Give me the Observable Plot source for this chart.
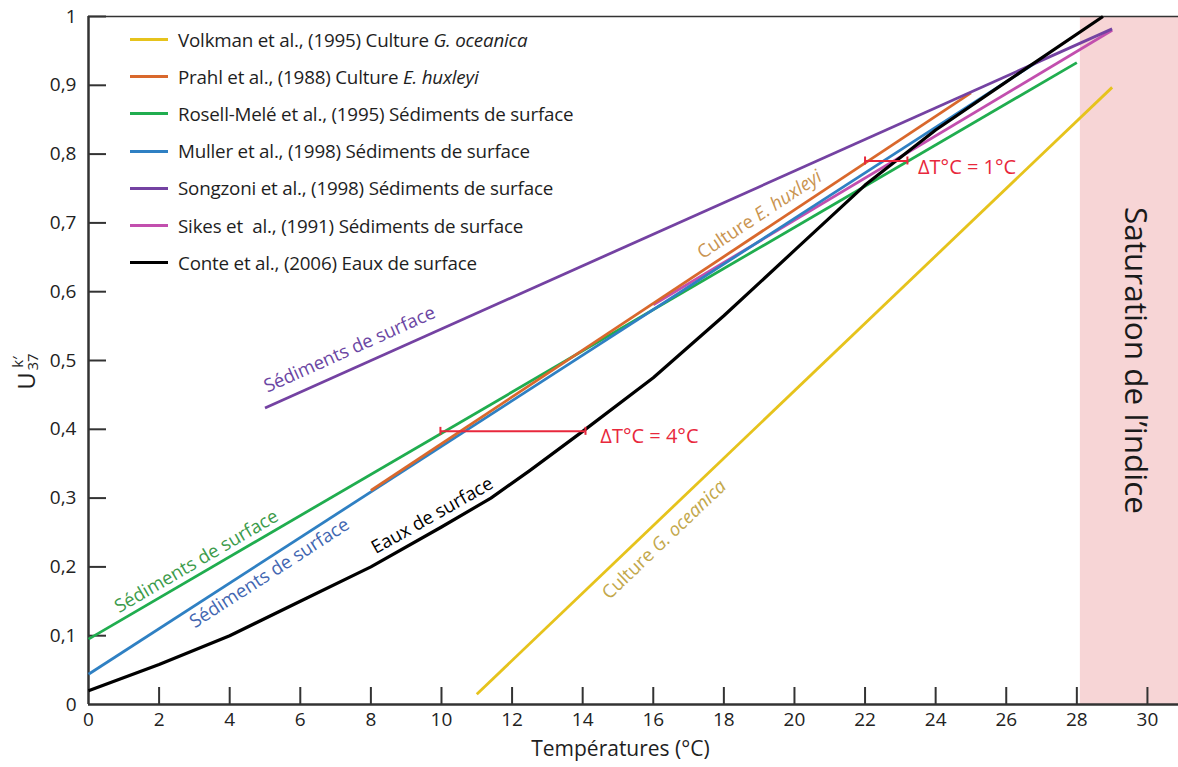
<!DOCTYPE html>
<html><head><meta charset="utf-8">
<script src="https://cdn.jsdelivr.net/npm/d3@7"></script>
<script src="https://cdn.jsdelivr.net/npm/@observablehq/plot@0.6"></script>
<style>
body{margin:0;background:#fff;font-family:'Open Sans',sans-serif;}
#wrap{position:relative;width:1178px;height:767px;}
#legend{position:absolute;left:130px;top:21px;font-size:18.8px;color:#1e1e1e;letter-spacing:-0.2px;}
.row{display:flex;align-items:center;height:37.2px;white-space:nowrap;}
.sw{width:38px;height:3px;margin-right:10px;}
</style></head><body>
<div id="wrap"><div id="legend"></div></div>
<script>
// ---- data ----
const seriesKeys = ["Volkman", "Prahl", "Rosell", "Muller", "Sonzogni", "Sikes", "Conte"];
const legendLabels = [
  "Volkman et al., (1995) Culture <i>G. oceanica</i>",
  "Prahl et al., (1988) Culture <i>E. huxleyi</i>",
  "Rosell-Melé et al., (1995) Sédiments de surface",
  "Muller et al., (1998) Sédiments de surface",
  "Songzoni et al., (1998) Sédiments de surface",
  "Sikes et&nbsp; al., (1991) Sédiments de surface",
  "Conte et al., (2006) Eaux de surface"
];
const seriesColors = ["#e6c31c", "#d9682c", "#20ad4f", "#2f80c3", "#7442a2", "#c24fae", "#000000"];

const volkmanT = [11, 29],   volkmanU = [0.015, 0.897];
const prahlT = [8, 25],      prahlU = [0.311, 0.889];
const rosellT = [0, 28],     rosellU = [0.095, 0.933];
const mullerT = [0, 26.9],   mullerU = [0.044, 0.935];
const sonzogniT = [5, 29],   sonzogniU = [0.431, 0.982];
const sikesT = [16, 29],     sikesU = [0.581, 0.980];
const conteT = [0, 2, 4, 6, 8, 10, 11.4, 12.5, 14, 16, 18, 20, 22, 24, 26, 28.74];
const conteU = [0.02, 0.058, 0.10, 0.15, 0.20, 0.258, 0.30, 0.34, 0.397, 0.475, 0.565, 0.66, 0.755, 0.835, 0.905, 1.0];

const xTicks = [0, 2, 4, 6, 8, 10, 12, 14, 16, 18, 20, 22, 24, 26, 28, 30];
const yTicks = [0, 0.1, 0.2, 0.3, 0.4, 0.5, 0.6, 0.7, 0.8, 0.9, 1];
const saturationStart = 28.1;

const deltaBars = [
  {x1: 9.97, x2: 14.08, y: 0.397, text: "ΔT°C = 4°C", tx: 14.5, ty: 0.389},
  {x1: 22.0, x2: 23.2, y: 0.790, text: "ΔT°C = 1°C", tx: 23.5, ty: 0.781}
];

const curveLabels = [
  {text: "Sédiments de surface", series: "Sonzogni", x: 7.4, y: 0.516, color: "#6b46a3"},
  {text: "Sédiments de surface", series: "Rosell", x: 3.06, y: 0.208, color: "#3c9b4b"},
  {text: "Sédiments de surface", series: "Muller", x: 5.13, y: 0.191, color: "#4266b1"},
  {text: "Eaux de surface", series: "Conte", x: 9.74, y: 0.2745, color: "#000000"},
  {text: "Culture E. huxleyi", series: "Prahl", x: 19.01, y: 0.712, color: "#c99450"},
  {text: "Culture G. oceanica", series: "Volkman", x: 16.31, y: 0.2395, color: "#c3a84b"}
];

// ---- build ----
const seriesT = {Volkman: volkmanT, Prahl: prahlT, Rosell: rosellT, Muller: mullerT, Sonzogni: sonzogniT, Sikes: sikesT, Conte: conteT};
const seriesU = {Volkman: volkmanU, Prahl: prahlU, Rosell: rosellU, Muller: mullerU, Sonzogni: sonzogniU, Sikes: sikesU, Conte: conteU};
const colorOf = Object.fromEntries(seriesKeys.map((k, i) => [k, seriesColors[i]]));
const drawOrder = ["Volkman", "Sikes", "Rosell", "Muller", "Prahl", "Sonzogni", "Conte"];
const rows = [];
for (const k of drawOrder) seriesT[k].forEach((t, i) => rows.push({series: k, T: t, U: seriesU[k][i]}));

const W = 1178, H = 767, mL = 88, mR = 0, mT = 16, mB = 63;
const xMax = 30.88;
const kx = (W - mL - mR) / xMax, ky = (H - mT - mB);

function slopeAt(k, x) {
  const T = seriesT[k], U = seriesU[k];
  for (let i = 0; i < T.length - 1; i++) if (x >= T[i] && x <= T[i + 1]) return (U[i + 1] - U[i]) / (T[i + 1] - T[i]);
  return (U[U.length - 1] - U[0]) / (T[T.length - 1] - T[0]);
}
curveLabels.forEach(d => d.angle = -Math.atan(slopeAt(d.series, d.x) * ky / kx) * 180 / Math.PI);

const red = "#e8283c", axisCol = "#333";
const fmtY = d => d === 0 ? "0" : d === 1 ? "1" : d.toFixed(1).replace(".", ",");
const caps = deltaBars.flatMap(d => [{x: d.x1, y: d.y}, {x: d.x2, y: d.y}]);
const capH = 4 / ky;

const chart = Plot.plot({
  width: W, height: H,
  marginLeft: mL, marginRight: mR, marginTop: mT, marginBottom: mB,
  x: {domain: [0, xMax]},
  y: {domain: [0, 1]},
  style: {fontFamily: "'Open Sans', sans-serif", fontSize: "19px", background: "#fff", color: "#222"},
  marks: [
    Plot.rect([saturationStart], {x1: d => d, x2: xMax, y1: 0, y2: 1, fill: "#f7d5d6"}),
    Plot.ruleY([1], {stroke: axisCol, strokeWidth: 1.5}),
    Plot.ruleY([0], {stroke: axisCol, strokeWidth: 2.5}),
    Plot.ruleX([0], {stroke: axisCol, strokeWidth: 2.5}),
    Plot.ruleX(xTicks.filter(d => d > 0), {x: d => d, y1: 0, y2: 17 / ky, stroke: axisCol, strokeWidth: 2}),
    Plot.ruleY(yTicks.filter(d => d > 0), {y: d => d, x1: 0, x2: 18 / kx, stroke: axisCol, strokeWidth: 2}),
    Plot.axisX({ticks: xTicks, tickSize: 0, tickPadding: 8, label: null, fontSize: 19, tickFormat: d => String(d)}),
    Plot.axisY({ticks: yTicks, tickSize: 0, tickPadding: 12, label: null, fontSize: 19, tickFormat: fmtY}),
    Plot.text(["Températures (°C)"], {x: 15.07, frameAnchor: "bottom", dy: 51, fontSize: 21, fill: "#1e1e1e"}),
    Plot.text(["Saturation de l’indice"], {x: (saturationStart + xMax) / 2, y: 0.5, dx: 6, rotate: 90, fontSize: 31.5, fill: "#1a1a1a"}),
    Plot.line(rows, {x: "T", y: "U", z: "series", stroke: d => colorOf[d.series], strokeWidth: d => d.series === "Conte" ? 3.2 : 2.8, strokeLinecap: "butt"}),
    Plot.ruleY(deltaBars, {x1: "x1", x2: "x2", y: "y", stroke: red, strokeWidth: 2}),
    Plot.ruleX(caps, {x: "x", y1: d => d.y - capH, y2: d => d.y + capH, stroke: red, strokeWidth: 2}),
    Plot.text(deltaBars, {x: "tx", y: "ty", text: "text", textAnchor: "start", fill: red, fontSize: 20}),
    Plot.text(curveLabels, {x: "x", y: "y", text: "text", rotate: "angle", fill: "color", fontSize: 18.5})
  ]
});

// italic species names
d3.select(chart).selectAll("text").each(function() {
  const t = this.textContent;
  const m = t.match(/^(Culture )(.+)$/);
  if (m && this.childElementCount === 0) {
    this.textContent = "";
    d3.select(this).append("tspan").text(m[1]);
    d3.select(this).append("tspan").attr("font-style", "italic").text(m[2]);
  }
});

// y-axis label U^k'_37
const yl = d3.select(chart).append("g").attr("transform", "translate(35,381) rotate(-90)")
  .attr("font-family", "'Open Sans', sans-serif").attr("fill", "#1e1e1e");
yl.append("text").attr("x", 0).attr("y", 0).attr("font-size", 24).text("U");
yl.append("text").attr("x", 19).attr("y", -12).attr("font-size", 15).text("k′");
yl.append("text").attr("x", 19).attr("y", 3).attr("font-size", 15).text("37");

document.getElementById("wrap").prepend(chart);

// legend
const lg = document.getElementById("legend");
seriesKeys.forEach((k, i) => {
  const r = document.createElement("div");
  r.className = "row";
  r.innerHTML = `<span class="sw" style="background:${seriesColors[i]}"></span><span>${legendLabels[i]}</span>`;
  lg.appendChild(r);
});
</script>
</body></html>
